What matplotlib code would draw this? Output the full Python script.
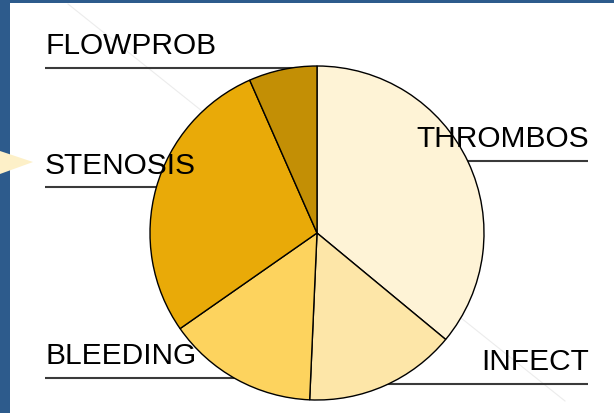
import numpy as np
import matplotlib.pyplot as plt
from matplotlib.patches import Rectangle, Polygon

# complication shares, clockwise from 12 o'clock
labels = ["THROMBOS", "INFECT", "BLEEDING", "STENOSIS", "FLOWPROB"]
values = [36.0, 14.7, 14.6, 28.1, 6.6]
colors = ["#fef3d6", "#fde6a8", "#fdd35e", "#e9aa08", "#c38f05"]

W, H = 614, 414


def py(y):
    # pixel row (from top) -> data y
    return H - y


fig = plt.figure(figsize=(W / 100, H / 100), dpi=100)
fig.patch.set_facecolor("#2d5b8c")
ax = fig.add_axes([0, 0, 1, 1])
ax.set_xlim(0, W)
ax.set_ylim(0, H)
ax.set_aspect("equal")
ax.axis("off")

# white slide panel and the small arrow on the left border
ax.add_patch(Rectangle((10, 0), W - 10, py(4), facecolor="white", edgecolor="none", zorder=0))
ax.add_patch(Polygon([(0, py(152)), (33, py(163)), (0, py(175))], closed=True,
                     facecolor="#fdf0c8", edgecolor="none", zorder=1))

# faint diagonal line behind the pie
ax.plot([68, 565], [py(5), py(402)], color="#ececec", lw=0.8, zorder=1)

# leader underlines (drawn behind the pie)
lines = {
    "FLOWPROB": (45, 320, 69),
    "STENOSIS": (45, 200, 188),
    "BLEEDING": (45, 260, 379),
    "THROMBOS": (440, 588, 162),
    "INFECT": (380, 588, 385),
}
for lab, (x0, x1, y) in lines.items():
    ax.plot([x0, x1], [py(y), py(y)], color="#3a3a3a", lw=1.5, zorder=1,
            solid_capstyle="butt")

wedges, _ = ax.pie(values, colors=colors, startangle=90, counterclock=False,
                   center=(317, py(234)), radius=167, frame=True,
                   wedgeprops=dict(edgecolor="black", linewidth=1))
for w in wedges:
    w.set_zorder(2)
ax.set_xlim(0, W)
ax.set_ylim(0, H)
ax.axis("off")

font = dict(family="Liberation Sans", fontsize=21.5, color="black", zorder=3)
ax.text(45, py(54), "FLOWPROB", ha="left", va="baseline", **font)
ax.text(45, py(174), "STENOSIS", ha="left", va="baseline", **font)
ax.text(45, py(364), "BLEEDING", ha="left", va="baseline", **font)
ax.text(589, py(147), "THROMBOS", ha="right", va="baseline", **font)
ax.text(589, py(370), "INFECT", ha="right", va="baseline", **font)

fig.savefig("out.png", dpi=100, facecolor=fig.get_facecolor())
